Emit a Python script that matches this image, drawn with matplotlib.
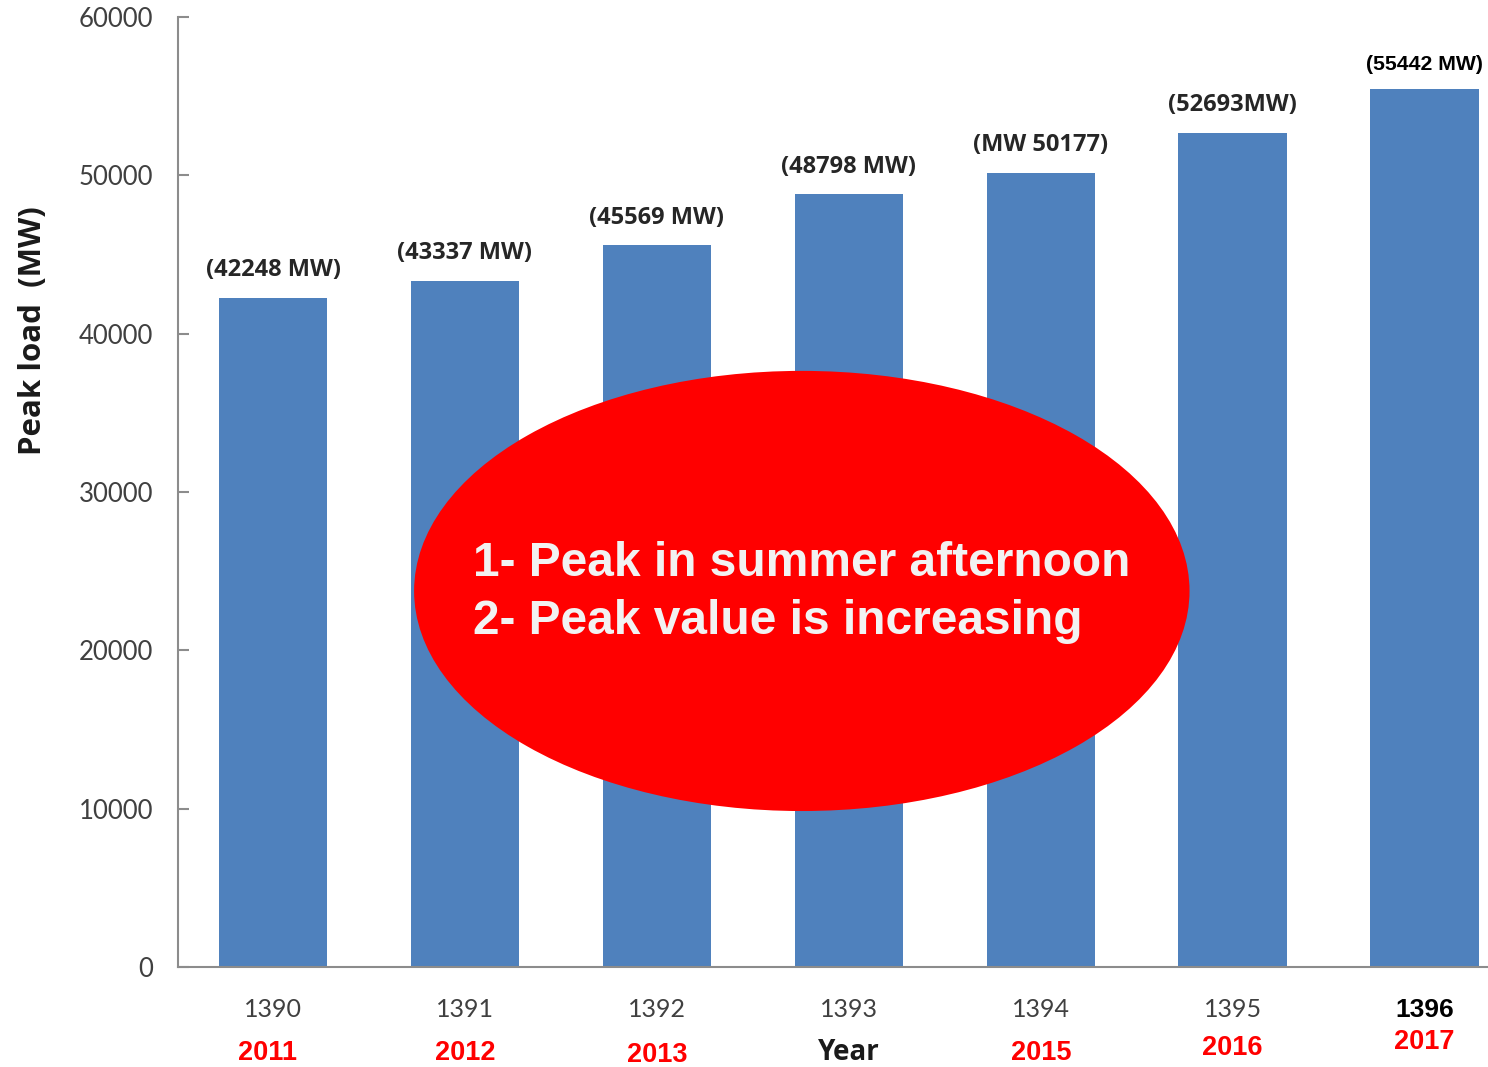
import matplotlib
matplotlib.use("Agg")
import matplotlib.pyplot as plt
from matplotlib.patches import Ellipse
import matplotlib.transforms as mtransforms

# data
shamsi_years = ["1390", "1391", "1392", "1393", "1394", "1395", "1396"]
greg_years = ["2011", "2012", "2013", "Year", "2015", "2016", "2017"]
peak_load = [42248, 43337, 45569, 48798, 50177, 52693, 55442]
value_labels = ["(42248 MW)", "(43337 MW)", "(45569 MW)", "(48798 MW)",
                "(MW 50177)", "(52693MW)", "(55442 MW)"]
y_ticks = [0, 10000, 20000, 30000, 40000, 50000, 60000]
notes = ["1- Peak in summer afternoon", "2- Peak value is increasing"]

BAR_COLOR = "#4F81BD"
TEXT_GRAY = "#404040"


def draw():
    fig = plt.figure(figsize=(14.88, 10.67), dpi=100)
    ax = fig.add_axes([178 / 1488, 100 / 1067, 1310 / 1488, 950 / 1067])

    x = list(range(len(peak_load)))
    ax.bar(x, peak_load, width=0.565, color=BAR_COLOR, zorder=2)
    ax.set_xlim(-0.495, 6.33)
    ax.set_ylim(0, 60000)

    # spines
    for side in ["top", "right"]:
        ax.spines[side].set_visible(False)
    ax.spines["left"].set_color("#8c8c8c")
    ax.spines["bottom"].set_color("#8c8c8c")
    ax.spines["left"].set_linewidth(1.5)
    ax.spines["bottom"].set_linewidth(1.5)

    # y axis
    ax.set_yticks(y_ticks)
    ax.set_yticklabels([str(v) for v in y_ticks], fontsize=18.5, family="Lato",
                       color=TEXT_GRAY)
    ax.tick_params(axis="y", direction="in", length=8, width=1.5,
                   color="#8c8c8c", pad=18)
    ax.set_ylabel("Peak load  (MW)", fontsize=22.5, fontweight="bold",
                  family="Open Sans", color="#1a1a1a")
    ax.yaxis.set_label_coords(-0.099, 0.67)

    # x axis
    ax.set_xticks(x)
    ax.set_xticklabels(shamsi_years, fontsize=18, family="Lato", color=TEXT_GRAY)
    ax.tick_params(axis="x", length=0, pad=22)
    last = ax.get_xticklabels()[-1]
    last.set_color("black")
    last.set_family("Liberation Sans")
    last.set_fontweight("bold")
    last.set_fontsize(19)

    # second row of year labels
    trans = mtransforms.blended_transform_factory(ax.transData, ax.transAxes)
    row_y = [-0.091, -0.091, -0.093, -0.090, -0.091, -0.085, -0.079]
    for i, lab in enumerate(greg_years):
        if lab == "Year":
            ax.text(i, row_y[i], lab, transform=trans, ha="center", va="center",
                    fontsize=20, fontweight="bold", family="Open Sans",
                    color="#1a1a1a")
        else:
            ax.text(i - 0.03 if i == 0 else i, row_y[i], lab, transform=trans,
                    ha="center", va="center", fontsize=19.5, fontweight="bold",
                    family="Liberation Sans", color="#ff0000")

    # value labels above bars
    for i, (v, lab) in enumerate(zip(peak_load, value_labels)):
        if i == len(peak_load) - 1:
            ax.annotate(lab, (i, v), xytext=(0, 18), textcoords="offset points",
                        ha="center", va="center", fontsize=15.3, fontweight="bold",
                        family="Liberation Sans", color="black")
        else:
            ax.annotate(lab, (i, v), xytext=(0, 20), textcoords="offset points",
                        ha="center", va="center", fontsize=17, fontweight="bold",
                        family="Open Sans", color="#262626")

    # red ellipse with notes
    ell = Ellipse((2.755, 23750), width=4.04, height=27800, facecolor="#ff0000",
                  edgecolor="none", zorder=3)
    ax.add_patch(ell)
    ax.text(1.04, 25500, notes[0], ha="left", va="center", fontsize=34.5,
            fontweight="bold", family="Liberation Sans", color="#f2f2f2", zorder=4)
    ax.text(1.04, 21850, notes[1], ha="left", va="center", fontsize=34.5,
            fontweight="bold", family="Liberation Sans", color="#f2f2f2", zorder=4)

    fig.savefig("out.png", dpi=100)


if __name__ == "__main__":
    draw()
